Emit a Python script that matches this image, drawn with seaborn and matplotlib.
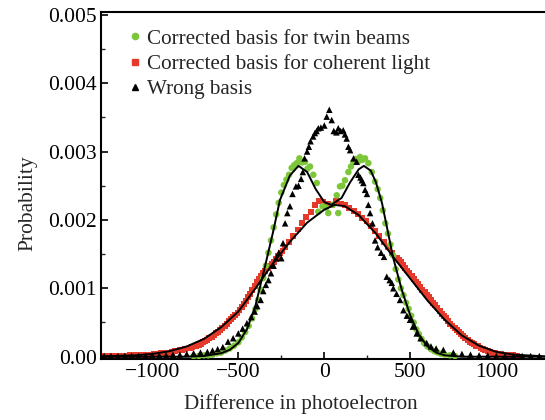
import numpy as np
import pandas as pd
import matplotlib
matplotlib.use("Agg")
import matplotlib.pyplot as plt
import seaborn as sns
from matplotlib.ticker import MultipleLocator, FixedLocator, FixedFormatter
from matplotlib.lines import Line2D

# ---------------- data ----------------
twin_x = [-760, -730, -700, -675, -650, -625, -600, -575, -550, -525, -500, -480, -460, -440, -420,
          -400, -385, -370, -355, -340, -325, -310, -295, -280, -265, -250, -235, -220, -205, -190,
          -175, -160, -145, -130, -112, -98, -83, -64, -44, -35, -10, 10, 23, 50, 72, 81, 91, 105,
          120, 140, 155, 169, 185, 200, 208, 222, 237, 256, 276, 295, 310, 325, 340, 355, 370, 385,
          400, 415, 430, 445, 460, 475, 490, 505, 520, 535, 550, 565, 580, 600, 620, 640, 660, 680,
          700, 730, 760]
twin_y = [0.00001, 0.00001, 0.00002, 0.00002, 0.00003, 0.00005, 0.00006, 0.00009, 0.00012, 0.00016,
          0.00021, 0.00028, 0.00036, 0.00045, 0.00056, 0.00070, 0.00083, 0.00098, 0.00115, 0.00133,
          0.00152, 0.00170, 0.00189, 0.00208, 0.00225, 0.00240, 0.00251, 0.00259, 0.00266, 0.00276,
          0.00280, 0.00283, 0.00290, 0.00284, 0.00285, 0.00275, 0.00278, 0.00266, 0.00254, 0.00212,
          0.00220, 0.00218, 0.00210, 0.00222, 0.00236, 0.00210, 0.00249, 0.00250, 0.00258, 0.00270,
          0.00278, 0.00285, 0.00289, 0.00286, 0.00292, 0.00288, 0.00290, 0.00283, 0.00270, 0.00256,
          0.00245, 0.00232, 0.00214, 0.00195, 0.00180, 0.00164, 0.00148, 0.00128, 0.00113, 0.00100,
          0.00090, 0.00079, 0.00070, 0.00060, 0.00050, 0.00040, 0.00033, 0.00026, 0.00020, 0.00015,
          0.00011, 0.00008, 0.00006, 0.00004, 0.00003, 0.00002, 0.00001]

coh_x = [-1290, -1270, -1250, -1230, -1210, -1190, -1170, -1150, -1130, -1110, -1090, -1070, -1050,
         -1030, -1010, -990, -970, -950, -930, -915, -900, -885, -870, -855, -840, -825, -810, -795,
         -780, -768, -755, -743, -730, -718, -705, -693, -680, -668, -655, -643, -630, -618, -605,
         -593, -580, -568, -555, -543, -530, -518, -505, -493, -480, -468, -455, -443, -430, -418,
         -405, -393, -380, -368, -355, -343, -330, -318, -305, -293, -280, -268, -255, -243, -230,
         -205, -180, -155, -130, -105, -80, -55, -30, -5, 20, 45, 70, 95, 120, 145, 170, 195, 220,
         245, 270, 295, 320, 345, 370, 395, 420, 433, 445, 458, 470, 483, 495, 508, 520, 533, 545,
         558, 570, 583, 595, 608, 620, 633, 645, 658, 670, 683, 695, 708, 720, 733, 745, 758, 770,
         783, 795, 808, 820, 833, 845, 858, 870, 883, 895, 908, 920, 935, 950, 965, 980, 995, 1010,
         1025, 1040, 1055, 1070, 1085, 1100, 1120]
coh_y = [0.00001, 0.00001, 0.00001, 0.00001, 0.00001, 0.00001, 0.00001, 0.00001, 0.00002, 0.00002,
         0.00002, 0.00002, 0.00003, 0.00003, 0.00003, 0.00004, 0.00004, 0.00005, 0.00005, 0.00006,
         0.00006, 0.00007, 0.00008, 0.00009, 0.00010, 0.00010, 0.00011, 0.00012, 0.00013, 0.00014,
         0.00015, 0.00016, 0.00017, 0.00019, 0.00021, 0.00023, 0.00025, 0.00027, 0.00029, 0.00031,
         0.00034, 0.00036, 0.00039, 0.00042, 0.00045, 0.00048, 0.00052, 0.00055, 0.00058, 0.00061,
         0.00064, 0.00068, 0.00073, 0.00077, 0.00082, 0.00087, 0.00092, 0.00098, 0.00104, 0.00109,
         0.00114, 0.00118, 0.00122, 0.00125, 0.00129, 0.00132, 0.00136, 0.00139, 0.00143, 0.00147,
         0.00151, 0.00155, 0.00160, 0.00168, 0.00176, 0.00186, 0.00196, 0.00204, 0.00212, 0.00222,
         0.00228, 0.00226, 0.00224, 0.00222, 0.00228, 0.00224, 0.00222, 0.00218, 0.00213, 0.00209,
         0.00203, 0.00198, 0.00191, 0.00184, 0.00177, 0.00168, 0.00161, 0.00152, 0.00145, 0.00141,
         0.00138, 0.00134, 0.00130, 0.00126, 0.00122, 0.00118, 0.00114, 0.00110, 0.00106, 0.00102,
         0.00098, 0.00094, 0.00091, 0.00087, 0.00083, 0.00079, 0.00075, 0.00071, 0.00067, 0.00063,
         0.00060, 0.00056, 0.00052, 0.00048, 0.00045, 0.00042, 0.00039, 0.00036, 0.00033, 0.00030,
         0.00027, 0.00024, 0.00022, 0.00020, 0.00018, 0.00016, 0.00015, 0.00013, 0.00011, 0.00010,
         0.00008, 0.00007, 0.00006, 0.00005, 0.00004, 0.00004, 0.00003, 0.00003, 0.00002, 0.00002,
         0.00002, 0.00001]

wrong_x = [-1280, -1240, -1200, -1160, -1120, -1080, -1040, -1000, -960, -920, -880, -840, -800, -760,
           -720, -680, -650, -620, -590, -560, -530, -500, -475, -450, -425, -405, -390, -370, -355,
           -340, -325, -310, -295, -280, -265, -250, -240, -228, -215, -200, -185, -165, -150, -135,
           -125, -115, -100, -90, -80, -65, -55, -45, -35, -20, 0, 14, 29, 43, 55, 70, 81, 95, 110,
           120, 130, 140, 150, 170, 188, 198, 210, 218, 227, 237, 248, 256, 266, 280, 295, 310, 330,
           347, 363, 380, 392, 401, 420, 440, 460, 480, 498, 515, 537, 560, 595, 620, 650, 692, 750,
           800, 850, 900, 950, 1000, 1050, 1100, 1150, 1200, 1250]
wrong_y = [0.00001, 0.00001, 0.00001, 0.00001, 0.00001, 0.00001, 0.00001, 0.00002, 0.00002, 0.00002,
           0.00003, 0.00003, 0.00004, 0.00005, 0.00006, 0.00007, 0.00009, 0.00011, 0.00014, 0.00022,
           0.00027, 0.00034, 0.00041, 0.00049, 0.00058, 0.00066, 0.00074, 0.00083, 0.00096, 0.00105,
           0.00112, 0.00122, 0.00133, 0.00144, 0.00152, 0.00144, 0.00166, 0.00195, 0.00210, 0.00220,
           0.00238, 0.00249, 0.00250, 0.00260, 0.00270, 0.00290, 0.00300, 0.00307, 0.00315, 0.00322,
           0.00327, 0.00330, 0.00334, 0.00335, 0.00338, 0.00351, 0.00361, 0.00346, 0.00330, 0.00328,
           0.00334, 0.00330, 0.00331, 0.00325, 0.00319, 0.00307, 0.00302, 0.00290, 0.00285, 0.00266,
           0.00262, 0.00258, 0.00254, 0.00244, 0.00238, 0.00222, 0.00210, 0.00195, 0.00170, 0.00160,
           0.00152, 0.00146, 0.00117, 0.00112, 0.00108, 0.00100, 0.00092, 0.00083, 0.00068, 0.00060,
           0.00054, 0.00044, 0.00034, 0.00027, 0.00020, 0.00015, 0.00012, 0.00010, 0.00006, 0.00004,
           0.00003, 0.00002, 0.00002, 0.00001, 0.00001, 0.00001, 0.00001, 0.00001, 0.00001]

twin_fit_x = [-1300, -800, -700, -600, -550, -500, -450, -400, -345, -300, -258, -200, -150, -100,
              -50, 0, 40, 100, 150, 200, 230, 270, 300, 335, 370, 400, 450, 500, 550, 600, 650, 700,
              750, 800, 1283]
twin_fit_y = [0.0, 0.0, 0.00001, 0.00005, 0.00010, 0.00020, 0.00040, 0.00075, 0.00132, 0.00180,
              0.00229, 0.00265, 0.00279, 0.00270, 0.00245, 0.00226, 0.00222, 0.00232, 0.00255,
              0.00274, 0.00279, 0.00272, 0.00255, 0.00225, 0.00182, 0.00145, 0.00098, 0.00060,
              0.00032, 0.00015, 0.00006, 0.00002, 0.00001, 0.0, 0.0]

coh_fit_x = [-1300, -1100, -1000, -900, -800, -700, -600, -500, -400, -300, -200, -100, 0, 60, 120,
             200, 300, 400, 500, 600, 700, 800, 900, 1000, 1100, 1283]
coh_fit_y = [0.000005, 0.00002, 0.00004, 0.00008, 0.00015, 0.00026, 0.00043, 0.00066, 0.00100,
             0.00136, 0.00168, 0.00196, 0.00215, 0.00222, 0.00220, 0.00207, 0.00180, 0.00146,
             0.00114, 0.00082, 0.00054, 0.00031, 0.00016, 0.00007, 0.00003, 0.000005]

x_ticks = [-1000, -500, 0, 500, 1000]
x_tick_labels = ["\u22121000", "\u2212500", "0", "500", "1000"]
y_ticks = [0.0, 0.001, 0.002, 0.003, 0.004, 0.005]
y_tick_labels = ["0.00", "0.001", "0.002", "0.003", "0.004", "0.005"]
labels = ["Corrected basis for twin beams", "Corrected basis for coherent light", "Wrong basis"]

GREEN = "#7cc63a"
RED = "#e53a2b"

# ---------------- plot ----------------
sns.set_style("ticks")
plt.rcParams["font.family"] = ["Liberation Serif", "DejaVu Serif"]

fig = plt.figure(figsize=(5.45, 4.2), dpi=100)
ax = fig.add_axes([0.1848, 0.1452, 0.8152, 0.8269])

sns.scatterplot(x=coh_x, y=coh_y, ax=ax, marker="s", s=18, color=RED, edgecolor="none",
                linewidth=0, zorder=2)
sns.scatterplot(x=twin_x, y=twin_y, ax=ax, marker="o", s=22, color=GREEN, edgecolor="none",
                linewidth=0, zorder=3)
sns.scatterplot(x=wrong_x, y=wrong_y, ax=ax, marker="^", s=22, color="black", edgecolor="none",
                linewidth=0, zorder=4)
sns.lineplot(x=coh_fit_x, y=coh_fit_y, ax=ax, color="black", lw=1.4, sort=False,
             estimator=None, zorder=5)
sns.lineplot(x=twin_fit_x, y=twin_fit_y, ax=ax, color="black", lw=1.4, sort=False,
             estimator=None, zorder=5)

ax.set_xlim(-1300, 1283)
ax.set_ylim(-0.000034, 0.005044)

ax.xaxis.set_major_locator(FixedLocator(x_ticks))
ax.xaxis.set_major_formatter(FixedFormatter(x_tick_labels))
ax.xaxis.set_minor_locator(MultipleLocator(250))
ax.yaxis.set_major_locator(FixedLocator(y_ticks))
ax.yaxis.set_major_formatter(FixedFormatter(y_tick_labels))
ax.yaxis.set_minor_locator(MultipleLocator(0.0005))

ax.tick_params(axis="both", which="major", direction="in", length=5, width=1.2,
               labelsize=15.5, pad=3, colors="black")
ax.tick_params(axis="both", which="minor", direction="in", length=3, width=1.0)
ax.tick_params(top=False, right=False, which="both")

for side in ["left", "bottom", "top"]:
    ax.spines[side].set_linewidth(1.5)
    ax.spines[side].set_color("black")
ax.spines["right"].set_visible(False)

ax.set_xlabel("Difference in photoelectron", fontsize=15.2)
ax.set_ylabel("Probability", fontsize=15.5)
ax.xaxis.set_label_coords(0.451, -0.10)
ax.yaxis.set_label_coords(-0.143, 0.449)

handles = [
    Line2D([], [], marker="o", color=GREEN, linestyle="none", markersize=4.5),
    Line2D([], [], marker="s", color=RED, linestyle="none", markersize=4),
    Line2D([], [], marker="^", color="black", linestyle="none", markersize=4.5),
]
ax.legend(handles, labels, loc="upper left", bbox_to_anchor=(0.045, 0.975), frameon=False,
          fontsize=15.2, handlelength=0.6, handletextpad=0.25, labelspacing=0.26,
          borderaxespad=0)

fig.savefig("out.png", dpi=100)
